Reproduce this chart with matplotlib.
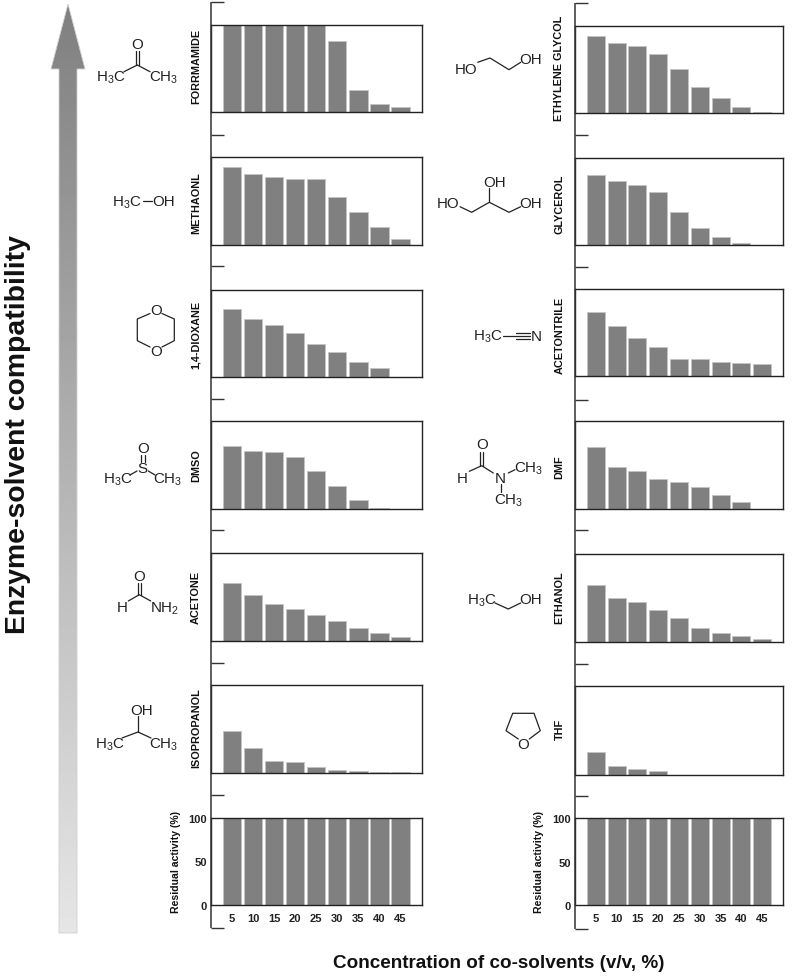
import numpy as np
import matplotlib
matplotlib.use('Agg')
import matplotlib.pyplot as plt
from matplotlib.patches import Polygon

plt.rcParams['font.family'] = ['Liberation Sans', 'DejaVu Sans']
plt.rcParams['mathtext.fontset'] = 'custom'
plt.rcParams['mathtext.rm'] = 'Liberation Sans'
plt.rcParams['mathtext.default'] = 'rm'

W, H = 800, 978
concentrations = [5, 10, 15, 20, 25, 30, 35, 40, 45]

formamide = [100, 100, 100, 100, 100, 81, 26, 9, 6]
methanol = [89, 80.5, 77, 75.5, 75, 54.5, 38, 21, 7]
dioxane = [78, 66, 59, 50, 38, 28, 17, 9.6, 0]
dmso = [71.6, 65.5, 64.4, 59.5, 43.6, 26, 10, 1, 0]
acetone = [66.7, 52.7, 42.4, 36.7, 30, 22.7, 15.5, 9, 5]
isopropanol = [47.4, 28, 14, 13, 7, 4, 2.6, 2, 1]
control = [100, 100, 100, 100, 100, 100, 100, 100, 100]

ethylene_glycol = [89, 81, 77.5, 68, 51, 30, 18, 7, 2]
glycerol = [80, 73, 68.4, 61, 38, 20, 9.5, 2.3, 0]
acetonitrile = [74, 57.5, 43.7, 33.7, 20, 19.5, 16, 14.6, 14]
dmf = [71, 48, 43, 35, 31, 25, 16, 8, 0]
ethanol = [65, 50, 45, 36, 26.5, 15.5, 10, 7, 3]
thf = [26, 10.5, 7, 4, 0.5, 0.5, 0.5, 0, 0]

left_panels = [
    ('FORRMAMIDE', formamide, 25.7, 113.3, 66),
    ('METHAONL', methanol, 158, 246, 203),
    ('1,4-DIOXANE', dioxane, 290.7, 377.7, 335),
    ('DMSO', dmso, 422, 510, 466),
    ('ACETONE', acetone, 554.3, 642.3, 598),
    ('ISOPROPANOL', isopropanol, 685.7, 774.3, 728),
    (None, control, 818.7, 906, None),
]
right_panels = [
    ('ETHYLENE GLYCOL', ethylene_glycol, 27, 114.3, 68),
    ('GLYCEROL', glycerol, 158.7, 246.3, 204),
    ('ACETONTRILE', acetonitrile, 290, 377, 335),
    ('DMF', dmf, 422.3, 510.3, 467),
    ('ETHANOL', ethanol, 554.7, 642.7, 598),
    ('THF', thf, 687, 776, 729),
    (None, control, 819.3, 906, None),
]
left_ticks = [3, 136, 267, 400, 531, 664, 796, 929]
right_ticks = [3.7, 136, 268, 401, 531, 664.7, 797, 930]

fig = plt.figure(figsize=(W / 100, H / 100), dpi=100, facecolor='white')

ov = fig.add_axes([0, 0, 1, 1], zorder=5)
ov.set_xlim(0, W)
ov.set_ylim(H, 0)
ov.axis('off')
ov.patch.set_alpha(0)


def panel(x0, x1, y0, y1, values, bottom):
    ax = fig.add_axes([x0 / W, 1 - y1 / H, (x1 - x0) / W, (y1 - y0) / H], zorder=2)
    ax.bar(range(len(concentrations)), values, width=0.87, color='#808080',
           edgecolor='#c4c4c4', linewidth=0.6)
    ax.set_xlim(-1, 9)
    ax.set_ylim(0, 100)
    for s in ax.spines.values():
        s.set_linewidth(1.0)
        s.set_color('#222222')
    ax.tick_params(length=0)
    if bottom:
        ax.set_yticks([0, 50, 100])
        ax.set_yticklabels(['0', '50', '100'], fontsize=8, fontweight='bold', color='#222222')
        ax.tick_params(axis='y', pad=3)
        ax.set_xticks(range(len(concentrations)))
        ax.set_xticklabels([str(c) for c in concentrations], fontsize=8,
                           fontweight='bold', color='#222222')
        ax.tick_params(axis='x', pad=6)
    else:
        ax.set_xticks([])
        ax.set_yticks([])


def column(panels, ticks, x0, x1, label_x):
    for name, vals, y0, y1, ly in panels:
        panel(x0, x1, y0, y1, vals, name is None)
        if name:
            ov.text(label_x, ly, name, rotation=90, ha='center', va='center',
                    fontsize=7.8, fontweight='bold', color='#111111')
    ov.plot([x0, x0], [ticks[0], ticks[-1]], color='#333333', lw=1.1, solid_capstyle='butt')
    for t in ticks:
        ov.plot([x0, x0 + 13], [t, t], color='#333333', lw=1.0, solid_capstyle='butt')


column(left_panels, left_ticks, 211, 421.5, 196)
column(right_panels, right_ticks, 575, 783, 559.5)

ov.text(176, 862, 'Residual activity (%)', rotation=90, ha='center', va='center',
        fontsize=7.6, fontweight='bold', color='#111111')
ov.text(539, 862, 'Residual activity (%)', rotation=90, ha='center', va='center',
        fontsize=7.6, fontweight='bold', color='#111111')
ov.text(499, 964, 'Concentration of co-solvents (v/v, %)', ha='center', va='center',
        fontsize=13.6, fontweight='bold', color='#111111')
ov.text(18.5, 435, 'Enzyme-solvent compatibility', rotation=90, ha='center', va='center',
        fontsize=20.4, fontweight='bold', color='#111111')

# arrow with a vertical gradient
arrow_pts = [(68, 5), (85, 70), (77, 70), (77, 934), (59, 934), (59, 70), (51, 70)]
grad = np.linspace(0.50, 0.90, 256).reshape(-1, 1)
im = ov.imshow(grad, extent=(51, 85, 934, 5), cmap='gray', vmin=0, vmax=1,
               aspect='auto', zorder=1)
clip = Polygon(arrow_pts, closed=True, transform=ov.transData, facecolor='none', edgecolor='none')
ov.add_patch(clip)
im.set_clip_path(clip)
ov.add_patch(Polygon(arrow_pts, closed=True, fill=False, edgecolor='#d0d0d0', lw=0.6, zorder=2))
ov.set_xlim(0, W)
ov.set_ylim(H, 0)

MC = '#222222'


def bonds(*pts):
    xs, ys = zip(*pts)
    ov.plot(xs, ys, color=MC, lw=0.9, solid_capstyle='round')


def atom(x, y, s):
    ov.text(x, y, s, ha='center', va='center', fontsize=10.9, color=MC)


# acetone structure
atom(137.3, 45, 'O'); atom(111, 78, 'H$_3$C'); atom(164, 78, 'CH$_3$')
bonds((124, 72.7), (137.3, 66), (150, 72.7))
bonds((136, 52), (136, 66)); bonds((138.8, 52), (138.8, 66))
# methanol
atom(126.7, 202.5, 'H$_3$C'); atom(164, 202, 'OH')
bonds((143, 202), (151.7, 202))
# dioxane
atom(156, 311, 'O'); atom(156, 352.3, 'O')
bonds((150, 314.5), (137.3, 320), (137.3, 341.7), (150, 348))
bonds((162, 314.5), (174.3, 320), (174.3, 341.7), (162, 348))
# dmso
atom(142.7, 449, 'O'); atom(142.7, 469, 'S'); atom(118, 480, 'H$_3$C'); atom(168, 480, 'CH$_3$')
bonds((141, 456), (141, 463)); bonds((144.5, 456), (144.5, 463))
bonds((130, 476), (137, 472)); bonds((148.3, 472), (155, 476))
# formamide
atom(139.3, 576.7, 'O'); atom(121.7, 608, 'H'); atom(165, 608.5, 'NH$_2$')
bonds((128.3, 602), (139.3, 595.7), (150.7, 602))
bonds((138, 584), (138, 596)); bonds((140.8, 584), (140.8, 596))
# isopropanol
atom(141.7, 711, 'OH'); atom(110, 745, 'H$_3$C'); atom(164, 745, 'CH$_3$')
bonds((138, 717), (138, 733)); bonds((122, 739), (138, 733), (151, 739))
# ethylene glycol
atom(465.7, 70, 'HO'); atom(530.7, 60, 'OH')
bonds((477.7, 63.3), (490, 59), (509, 70.7), (520.7, 63.3))
# glycerol
atom(495, 183.3, 'OH'); atom(448.3, 204.3, 'HO'); atom(530.7, 204.3, 'OH')
bonds((489.3, 189), (489.3, 203.3))
bonds((460, 207.7), (471.7, 213.3), (489.3, 203.3), (509, 213.3), (520.7, 207.7))
# acetonitrile
atom(487.7, 337, 'H$_3$C'); atom(536.7, 336.7, 'N')
bonds((502.7, 336.7), (530, 336.7))
bonds((516, 334), (530, 334)); bonds((516, 339.5), (530, 339.5))
# dmf
atom(481.7, 445, 'O'); atom(462.3, 479, 'H'); atom(500.7, 479, 'N')
atom(528.3, 468.5, 'CH$_3$'); atom(509, 501, 'CH$_3$')
bonds((469.3, 472.3), (481.7, 466.7), (493.3, 474))
bonds((480.3, 453), (480.3, 467)); bonds((483.2, 453), (483.2, 467))
bonds((508.3, 474), (515, 470.7)); bonds((500.7, 485), (500.7, 493.3))
# ethanol
atom(481.7, 600.5, 'H$_3$C'); atom(530.7, 600, 'OH')
bonds((495, 604), (508.3, 610), (520.7, 604))
# thf
atom(523.3, 745, 'O')
bonds((518.3, 740), (506, 731.7), (512.7, 714.3), (534, 714.3), (540.3, 731.7), (529.3, 740))

fig.savefig('out.png', dpi=100, facecolor='white')
